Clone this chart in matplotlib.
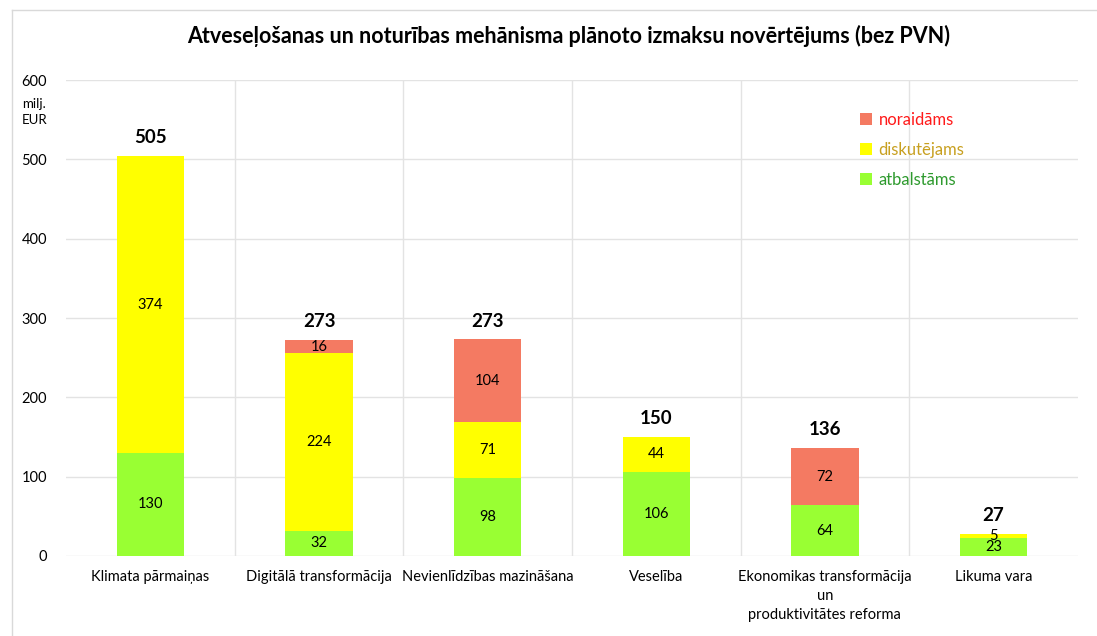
import matplotlib
matplotlib.use("Agg")
import matplotlib.pyplot as plt
from matplotlib.lines import Line2D
import numpy as np

plt.rcParams['font.family'] = ['Lato', 'DejaVu Sans']

categories = ["Klimata pārmaiņas", "Digitālā transformācija", "Nevienlīdzības mazināšana",
              "Veselība", "Ekonomikas transformācija\nun\nproduktivitātes reforma", "Likuma vara"]
atbalstams = [130, 32, 98, 106, 64, 23]
diskutejams = [374, 224, 71, 44, 0, 5]
noraidams = [0, 16, 104, 0, 72, 0]
totals = [505, 273, 273, 150, 136, 27]
yticks = [0, 100, 200, 300, 400, 500, 600]

c_green = "#99FF33"
c_yellow = "#FFFF00"
c_red = "#F47A62"

fig = plt.figure(figsize=(10.97, 6.36), dpi=100)
ax = fig.add_axes([0.0604, 0.1258, 0.922, 0.7484])

x = np.arange(len(categories))
w = 0.4
a = np.array(atbalstams)
d = np.array(diskutejams)
n = np.array(noraidams)
ax.bar(x, a, w, color=c_green, zorder=3, label="atbalstāms")
ax.bar(x, d, w, bottom=a, color=c_yellow, zorder=3, label="diskutējams")
ax.bar(x, n, w, bottom=a + d, color=c_red, zorder=3, label="noraidāms")

for i in range(len(x)):
    for val, bot in ((a[i], 0), (d[i], a[i]), (n[i], a[i] + d[i])):
        if val > 0:
            ax.text(x[i], bot + val / 2, str(val), ha="center", va="center",
                    fontsize=10.5, color="#000000", zorder=4)
    ax.annotate(str(totals[i]), (x[i], a[i] + d[i] + n[i]), xytext=(0, 7),
                textcoords="offset points", ha="center", va="bottom",
                fontsize=13.5, fontweight="bold", color="#000000")

ax.set_xlim(-0.5, len(categories) - 0.5)
ax.set_ylim(0, 600)
ax.set_yticks(yticks)
ax.set_xticks(x)
ax.set_xticklabels(categories, fontsize=10.5, color="#000000", linespacing=1.45)
ax.set_xticks(np.arange(0.5, len(categories) - 0.5, 1), minor=True)
ax.tick_params(axis="x", which="both", length=0, pad=10)
ax.tick_params(axis="y", length=0, pad=14, labelsize=10.5, labelcolor="#000000")
ax.grid(axis="y", color="#E3E3E3", linewidth=1, zorder=0)
ax.grid(axis="x", which="minor", color="#E3E3E3", linewidth=1, zorder=0)
ax.grid(axis="x", which="major", visible=False)
for s in ax.spines.values():
    s.set_visible(False)

fig.text(0.020, 1 - 112 / 636, "milj.\nEUR", fontsize=9.5, ha="left", va="center",
         linespacing=1.5)

fig.text(0.518, 1 - 36 / 636, "Atveseļošanas un noturības mehānisma plānoto izmaksu novērtējums (bez PVN)",
         ha="center", va="center", fontsize=15.5, fontweight="bold")

handles, labels = ax.get_legend_handles_labels()
leg = ax.legend(handles[::-1], labels[::-1], loc="upper left", bbox_to_anchor=(0.77, 0.965),
                frameon=False, fontsize=12, handlelength=0.7, handleheight=0.7,
                handletextpad=0.4, labelspacing=0.85)
for t, col in zip(leg.get_texts(), ["#FF1A1A", "#C8A020", "#2E9A2E"]):
    t.set_color(col)

fig.add_artist(Line2D([12 / 1097, 12 / 1097], [0, 1 - 10 / 636], color="#D9D9D9", lw=1,
                      transform=fig.transFigure))
fig.add_artist(Line2D([12 / 1097, 1], [1 - 10 / 636, 1 - 10 / 636], color="#D9D9D9", lw=1,
                      transform=fig.transFigure))

fig.savefig("out.png", dpi=100)
